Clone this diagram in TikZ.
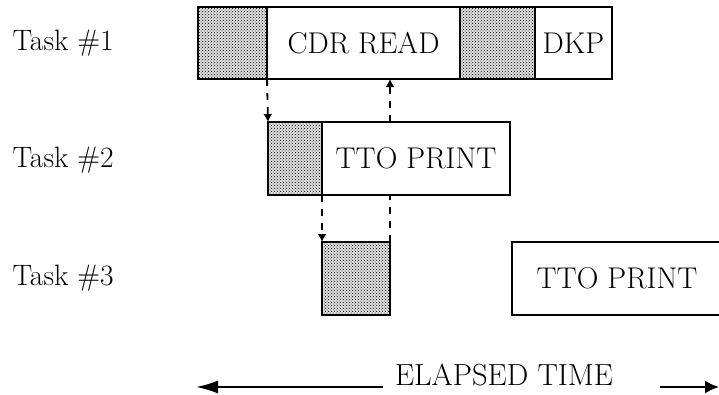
\documentclass[tikz,border=0pt]{standalone}
\usetikzlibrary{arrows.meta,positioning,patterns}

\begin{document}
\begin{tikzpicture}[x=1pt, y=-1pt,
  seg/.style={draw, line width=2pt, minimum height=72pt, inner sep=0pt, outer sep=0pt, anchor=north west, font=\fontsize{30}{34}\selectfont},
  busy/.style={seg, preaction={fill=black!12}, pattern=crosshatch dots, pattern color=black},
  lbl/.style={anchor=west, font=\fontsize{29.5}{34}\selectfont},
  hand/.style={line width=1.8pt, dash pattern=on 7pt off 7pt},
  handarr/.style={hand, -{Latex[length=8pt,width=9pt]}},
  timearr/.style={line width=2pt, -{Latex[length=14pt,width=13pt]}}
]
\useasboundingbox (0,0) rectangle (719,394);

% row labels
\node[lbl] (t1) at (9,43) {Task \#1};
\node[lbl] (t2) at (9,160) {Task \#2};
\node[lbl] (t3) at (9,278) {Task \#3};

% task 1
\node[busy, minimum width=69pt] (w1) at (198,7) {};
\node[seg, minimum width=193pt] (cdr) at (w1.north east) {CDR READ};
\node[busy, minimum width=75pt] (w1b) at (cdr.north east) {};
\node[seg, minimum width=77pt] (dkp) at (w1b.north east) {DKP};

% task 2
\node[busy, minimum width=54pt, minimum height=73pt] (w2) at (268,122) {};
\node[seg, minimum width=188pt, minimum height=73pt] (tto) at (w2.north east) {TTO PRINT};

% task 3
\node[busy, minimum width=68pt, minimum height=73pt] (w3) at (322,242) {};
\node[seg, minimum width=210pt, minimum height=73pt] (tto3) at (512,242) {TTO PRINT};

% hand-offs
\draw[handarr] (w1.south east) -- (w2.north west);
\coordinate (r1) at (390,79);
\coordinate (r2) at (390,122);
\draw[handarr] (r2) -- (r1);
\draw[handarr] (w2.south east) -- (w3.north west);
\draw[hand] (w3.north east) -- (w3.north east |- tto.south);

% time axis
\node[font=\fontsize{30.5}{34}\selectfont] (et) at (504,375) {ELAPSED TIME};
\coordinate (tl) at (196,387);
\coordinate (tr) at (719,387);
\draw[timearr, -{Latex[length=22pt,width=13pt]}] (et.base west |- tl) ++(-8,0) coordinate (tls) -- (tl);
\draw[timearr] (660,387) coordinate (trs) -- (tr);
\end{tikzpicture}
\end{document}
